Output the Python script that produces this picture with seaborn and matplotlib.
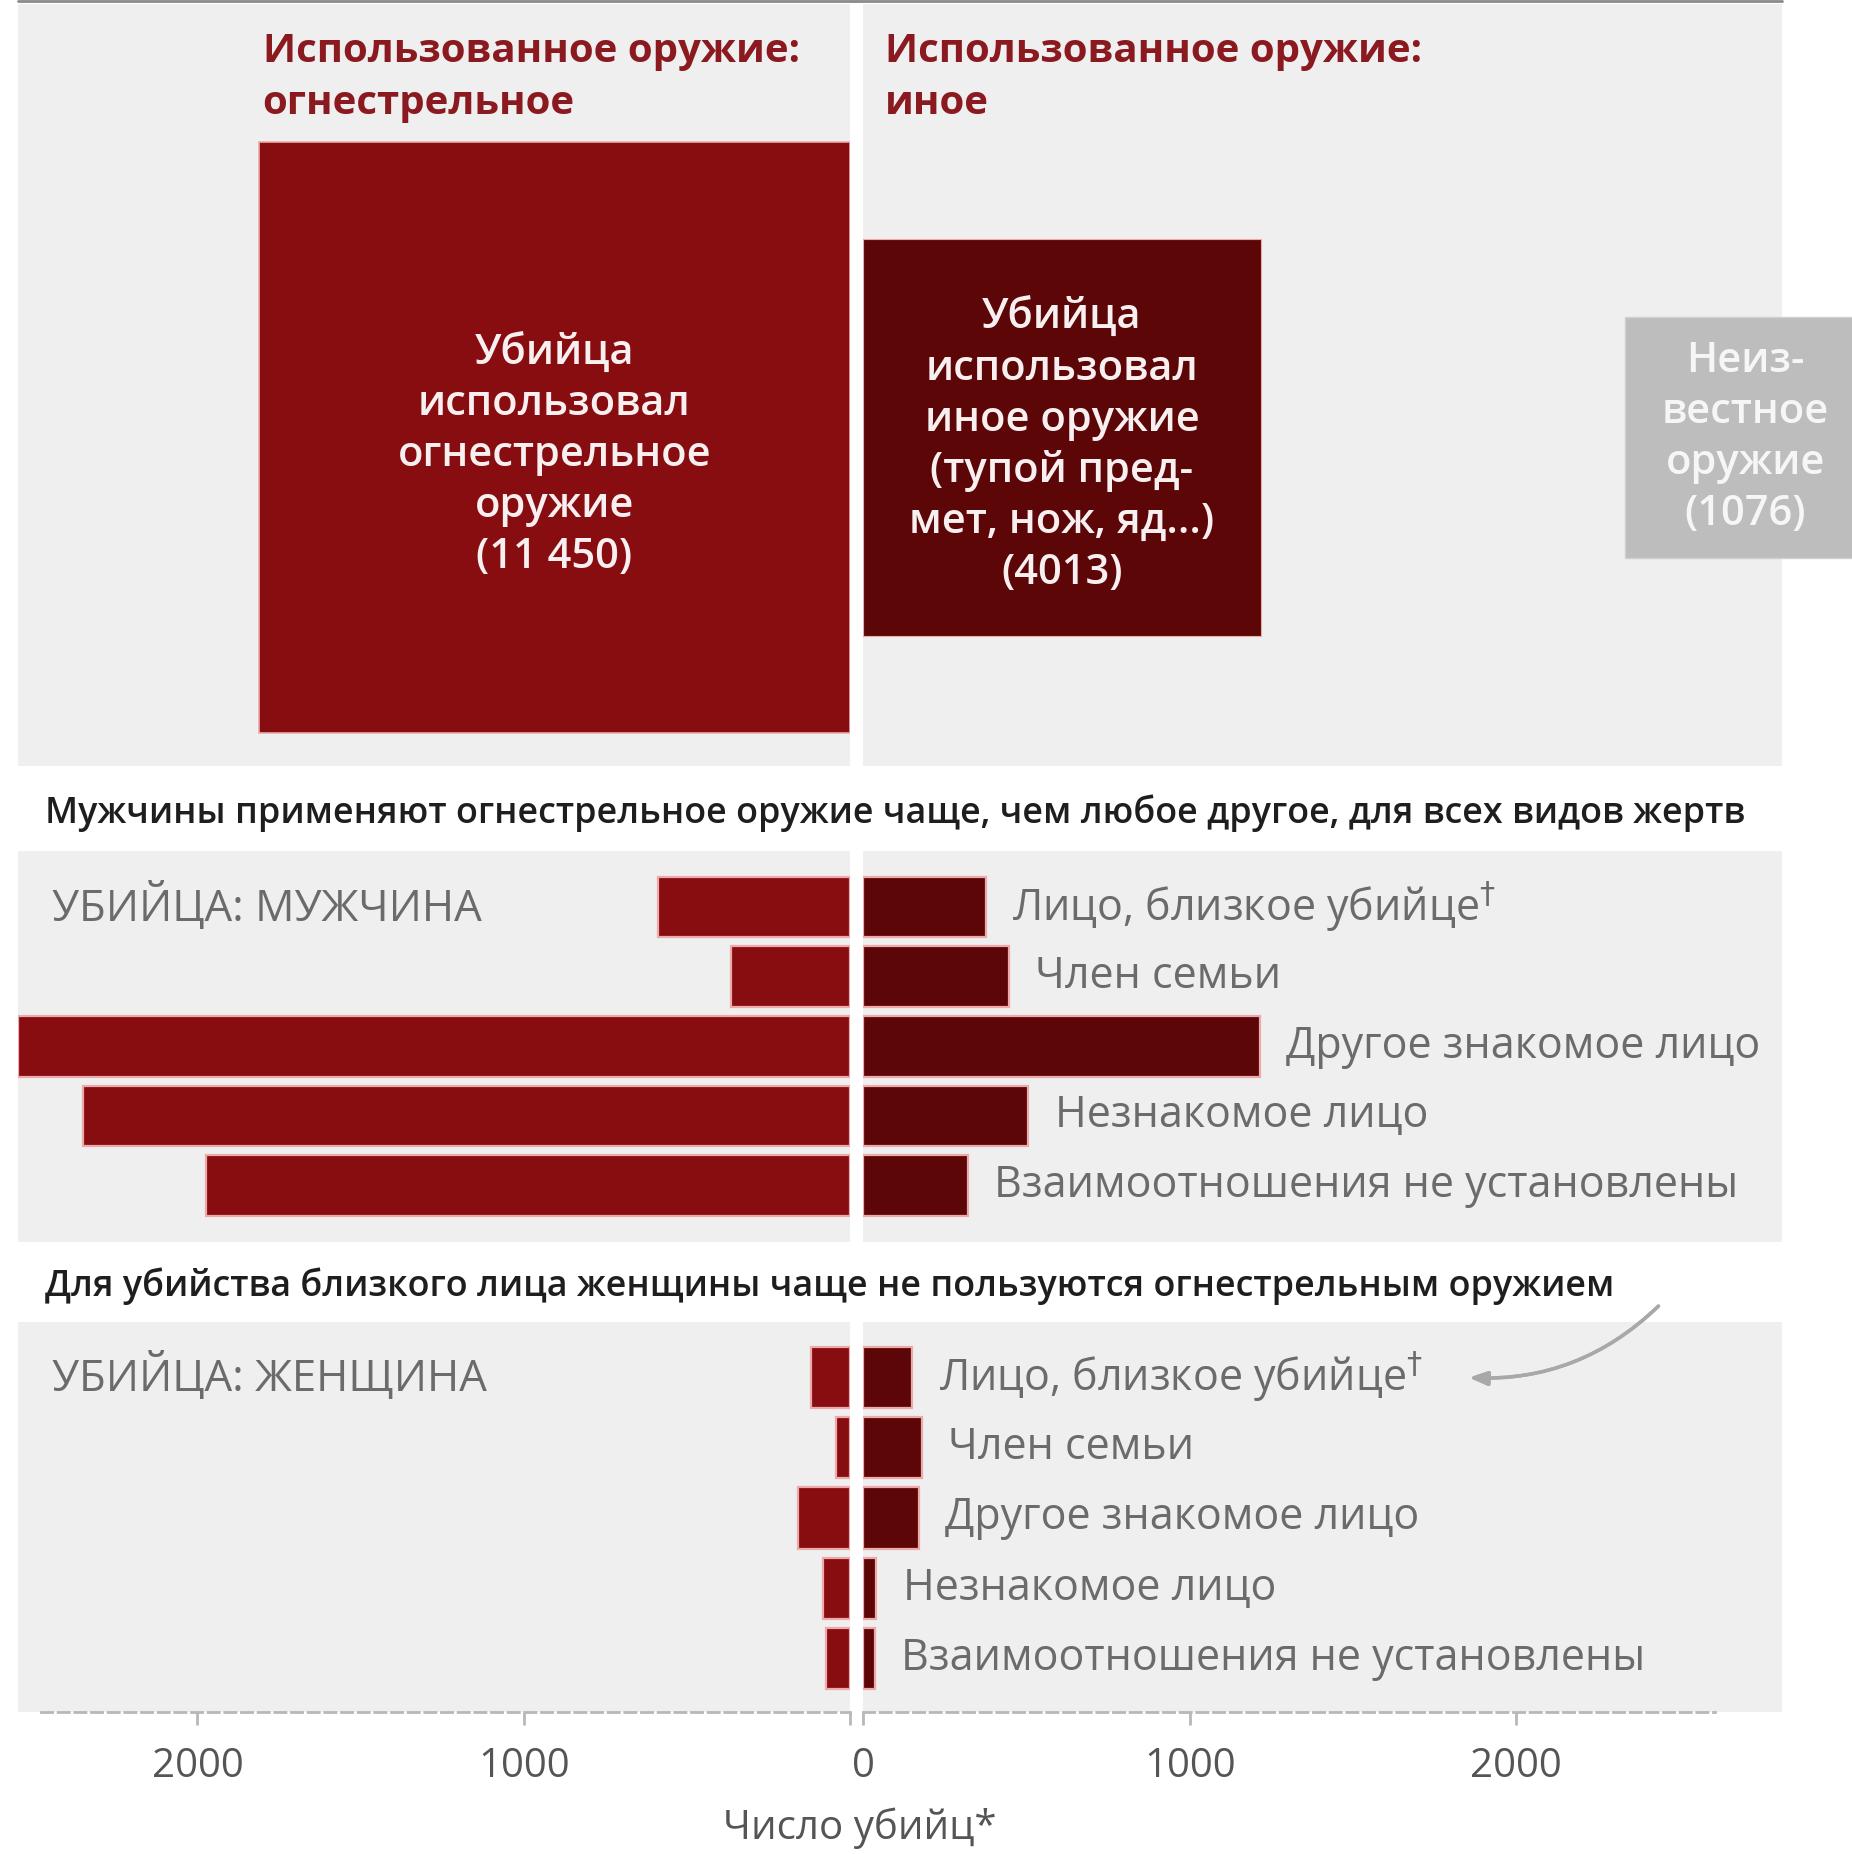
import matplotlib
matplotlib.use("Agg")
import matplotlib.pyplot as plt
from matplotlib.patches import Rectangle
from matplotlib.lines import Line2D
import seaborn as sns

# Данные
victims = ["Лицо, близкое убийце", "Член семьи", "Другое знакомое лицо",
           "Незнакомое лицо", "Взаимоотношения не установлены"]
victim_labels = [r"Лицо, близкое убийце$^{\dagger}$", "Член семьи", "Другое знакомое лицо",
                 "Незнакомое лицо", "Взаимоотношения не установлены"]
male_firearm = [590, 365, 2550, 2350, 1975]
male_other = [375, 445, 1215, 505, 320]
female_firearm = [120, 45, 160, 85, 75]
female_other = [150, 180, 170, 40, 35]

weapon_totals = [11450, 4013, 1076]
weapon_texts = ["Убийца\nиспользовал\nогнестрельное\nоружие\n(11 450)",
                "Убийца\nиспользовал\nиное оружие\n(тупой пред-\nмет, нож, яд...)\n(4013)",
                "Неиз-\nвестное\nоружие\n(1076)"]
tick_values = [0, 1000, 2000]

FIRE = "#880d11"
OTHER = "#5d0608"
UNKNOWN = "#bdbdbd"
PANEL = "#efefef"
EDGE = "#eeaaaa"
HEAD = "#8a1a20"
GREY_TXT = "#6b6b6b"

sns.set_theme(style="white")
plt.rcParams["font.family"] = ["Open Sans", "DejaVu Sans"]

W, H = 1566, 1568          # координаты разметки (пиксели эталона)
PX = 0.276                 # пикселей на единицу данных


def rect(x0, y0, x1, y1):
    return [x0 / W, 1 - y1 / H, (x1 - x0) / W, (y1 - y0) / H]


fig = plt.figure(figsize=(18.52, 18.54), dpi=100, facecolor="white")

LX0, ZL, ZR, RX1 = 15, 719, 730, 1507
left_lim = (ZL - LX0) / PX
right_lim = (RX1 - ZR) / PX


def clean(ax):
    ax.set_facecolor(PANEL)
    for s in ax.spines.values():
        s.set_visible(False)
    ax.set_xticks([])
    ax.set_yticks([])
    ax.set_xlabel("")
    ax.set_ylabel("")


# Верхняя панель: квадраты
top_l = fig.add_axes(rect(LX0, 3, ZL, 648))
top_r = fig.add_axes(rect(ZR, 3, RX1, 648))
top_h = 645 / PX
for ax in (top_l, top_r):
    clean(ax)
    ax.set_ylim(0, top_h)
top_l.set_xlim(left_lim, 0)
top_r.set_xlim(0, right_lim)

K = 52.0
cy = (648 - 370) / PX
sides = [K * v ** 0.38 for v in weapon_totals]
box_font = dict(ha="center", va="center", fontsize=30, fontweight="semibold", linespacing=1.28)

s = sides[0]
top_l.add_patch(Rectangle((0, cy - s / 2), s, s, facecolor=FIRE, edgecolor=EDGE, lw=1.2))
top_l.text(s / 2, cy - 55, weapon_texts[0], color="#f8f0f0", **box_font)

s = sides[1]
top_r.add_patch(Rectangle((0, cy - s / 2), s, s, facecolor=OTHER, edgecolor=EDGE, lw=0.8))
top_r.text(s / 2, cy - 25, weapon_texts[1], color="#f8f0f0", **box_font)

s = sides[2]
ux = (1374 - ZR) / PX
top_r.add_patch(Rectangle((ux, cy - s / 2), s, s, facecolor=UNKNOWN, edgecolor="#d0d0d0",
                          lw=1.0, clip_on=False))
top_r.text(ux + s / 2, cy, weapon_texts[2], color="#f6f6f6", clip_on=False, **box_font)

for x, txt in ((222, "Использованное оружие:\nогнестрельное"), (748, "Использованное оружие:\nиное")):
    fig.text(x / W, 1 - 27 / H, txt, ha="left", va="top", color=HEAD,
             fontsize=29, fontweight="bold", linespacing=1.42)

fig.text(38 / W, 1 - 688 / H,
         "Мужчины применяют огнестрельное оружие чаще, чем любое другое, для всех видов жертв",
         ha="left", va="center", color="#1e1e1e", fontsize=25.8, fontweight="semibold")
fig.text(38 / W, 1 - 1088 / H,
         "Для убийства близкого лица женщины чаще не пользуются огнестрельным оружием",
         ha="left", va="center", color="#1e1e1e", fontsize=25.8, fontweight="semibold")


def panel(y0, y1, firearm, other, title, ylim):
    ax_l = fig.add_axes(rect(LX0, y0, ZL, y1))
    ax_r = fig.add_axes(rect(ZR, y0, RX1, y1))
    sns.barplot(x=firearm, y=victims, orient="h", color=FIRE, saturation=1, width=0.87,
                edgecolor=EDGE, linewidth=1.6, ax=ax_l)
    sns.barplot(x=other, y=victims, orient="h", color=OTHER, saturation=1, width=0.87,
                edgecolor=EDGE, linewidth=1.6, ax=ax_r)
    for ax in (ax_l, ax_r):
        clean(ax)
        ax.set_ylim(*ylim)
    ax_l.set_xlim(left_lim, 0)
    ax_r.set_xlim(0, right_lim)
    for i, (v, lab) in enumerate(zip(other, victim_labels)):
        ax_r.annotate(lab, xy=(v, i), xytext=(19, 0), textcoords="offset points",
                      ha="left", va="center", color=GREY_TXT, fontsize=31)
    ax_l.annotate(title, xy=(0, 0), xycoords=ax_l.get_yaxis_transform(), xytext=(25, 0),
                  textcoords="offset points", ha="left", va="center", color=GREY_TXT,
                  fontsize=31.5)
    return ax_l, ax_r


panel(720, 1050, male_firearm, male_other, "УБИЙЦА: МУЖЧИНА", (4.8, -0.8))
fl, fr = panel(1118, 1448, female_firearm, female_other, "УБИЙЦА: ЖЕНЩИНА", (4.76, -0.79))

# Нижняя ось
for ax, labels, bounds in ((fl, ["", "1000", "2000"], ((ZL - 35) / PX, 0)),
                           (fr, ["0", "1000", "2000"], (0, (1450 - ZR) / PX))):
    sp = ax.spines["bottom"]
    sp.set_visible(True)
    sp.set_color("#b8b8b8")
    sp.set_linewidth(2)
    sp.set_linestyle((0, (4, 2)))
    sp.set_bounds(*bounds)
    ax.set_xticks(tick_values)
    ax.set_xticklabels(labels)
    ax.tick_params(axis="x", bottom=True, direction="out", length=9, width=2,
                   color="#b8b8b8", labelsize=29, labelcolor="#555555", pad=16)

fig.text(727 / W, 1 - 1546 / H, "Число убийц*", ha="center", va="center",
         color="#555555", fontsize=29)

# Стрелка-пояснение
fig.add_artist(plt.annotate("", xy=(1240 / W, 1 - 1165 / H), xycoords="figure fraction",
                            xytext=(1404 / W, 1 - 1103 / H), textcoords="figure fraction",
                            arrowprops=dict(arrowstyle="-|>,head_length=0.9,head_width=0.35",
                                            color="#a8a8a8", lw=2.5,
                                            connectionstyle="arc3,rad=-0.22")))

fig.add_artist(Line2D([LX0 / W, RX1 / W], [1 - 1 / H, 1 - 1 / H], color="#8a8a8a", lw=2))

fig.savefig("out.png", dpi=100, facecolor="white")
